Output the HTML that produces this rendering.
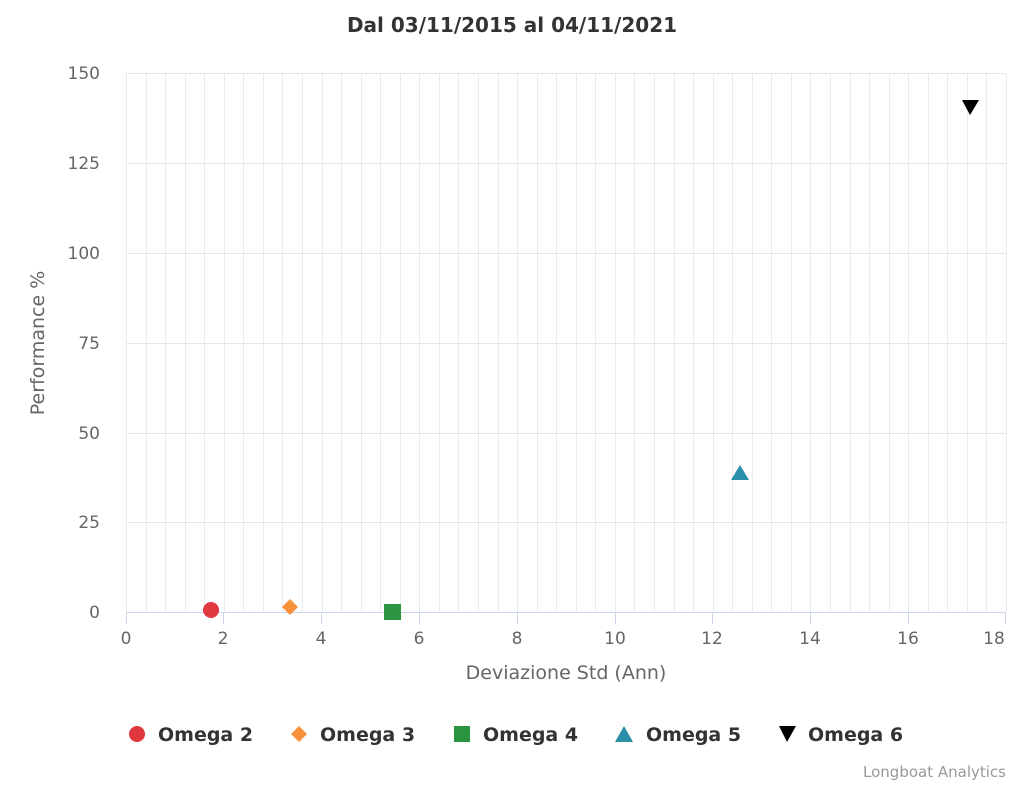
<!DOCTYPE html><html><head><style>body{margin:0;background:#fff}</style></head><body>
<svg width="1024" height="785" xmlns="http://www.w3.org/2000/svg" font-family="'DejaVu Sans','Liberation Sans',sans-serif">
<rect width="1024" height="785" fill="#fff"/>
<text x="512" y="32" text-anchor="middle" font-size="20" font-weight="bold" fill="#333">Dal 03/11/2015 al 04/11/2021</text>
<g id="g" stroke="#ebebeb" stroke-width="1"></g>
<g stroke="#e6e6e6">
<line x1="126" x2="1006" y1="73.5" y2="73.5"/><line x1="126" x2="1006" y1="163.5" y2="163.5"/><line x1="126" x2="1006" y1="253.5" y2="253.5"/><line x1="126" x2="1006" y1="343.5" y2="343.5"/><line x1="126" x2="1006" y1="433.5" y2="433.5"/><line x1="126" x2="1006" y1="522.5" y2="522.5"/>
</g>
<line x1="126" x2="1006" y1="612.5" y2="612.5" stroke="#ccd6eb"/>
<g stroke="#ccd6eb">
<line x1="126.5" x2="126.5" y1="612" y2="624"/><line x1="223.5" x2="223.5" y1="612" y2="624"/><line x1="321.5" x2="321.5" y1="612" y2="624"/><line x1="419.5" x2="419.5" y1="612" y2="624"/><line x1="517.5" x2="517.5" y1="612" y2="624"/><line x1="615.5" x2="615.5" y1="612" y2="624"/><line x1="712.5" x2="712.5" y1="612" y2="624"/><line x1="810.5" x2="810.5" y1="612" y2="624"/><line x1="908.5" x2="908.5" y1="612" y2="624"/><line x1="1005.5" x2="1005.5" y1="612" y2="624"/>
</g>
<g font-size="17" fill="#666" text-anchor="middle">
<text x="126" y="644">0</text><text x="223" y="644">2</text><text x="321" y="644">4</text><text x="419" y="644">6</text><text x="517" y="644">8</text><text x="615" y="644">10</text><text x="712" y="644">12</text><text x="810" y="644">14</text><text x="908" y="644">16</text><text x="994" y="644">18</text>
</g>
<g font-size="17" fill="#666" text-anchor="end">
<text x="100" y="79">150</text><text x="100" y="169">125</text><text x="100" y="259">100</text><text x="100" y="349">75</text><text x="100" y="439">50</text><text x="100" y="528">25</text><text x="100" y="618">0</text>
</g>
<text x="566" y="679" text-anchor="middle" font-size="19" fill="#666">Deviazione Std (Ann)</text>
<text transform="translate(44,343) rotate(-90)" text-anchor="middle" font-size="19" fill="#666">Performance %</text>
<circle cx="211" cy="610" r="8" fill="#e0383e"/>
<polygon points="290,599 298,607 290,615 282,607" fill="#f7923a"/>
<rect x="384" y="604" width="17" height="16" fill="#2a9440"/>
<polygon points="740,465 749,480 731,480" fill="#2a8fa8"/>
<polygon points="962,100 979,100 970,115" fill="#000"/>
<g font-size="19" font-weight="bold" fill="#333">
<circle cx="137" cy="734" r="8" fill="#e0383e"/><text x="158" y="741">Omega 2</text>
<polygon points="299,726 307,734 299,742 291,734" fill="#f7923a"/><text x="320" y="741">Omega 3</text>
<rect x="454" y="726" width="16" height="16" fill="#2a9440"/><text x="483" y="741">Omega 4</text>
<polygon points="624,726 633,742 615,742" fill="#2a8fa8"/><text x="646" y="741">Omega 5</text>
<polygon points="779,726 796,726 787,742" fill="#000"/><text x="808" y="741">Omega 6</text>
</g>
<text x="1006" y="777" text-anchor="end" font-size="15" fill="#999">Longboat Analytics</text>
</svg>
<script>
var g=document.getElementById('g'),s='';
for(var i=0;i<=45;i++){var x=Math.round(126+i*19.556)+0.5;s+='<line x1="'+x+'" x2="'+x+'" y1="73" y2="612"/>';}
g.innerHTML=s;
</script>
</body></html>
